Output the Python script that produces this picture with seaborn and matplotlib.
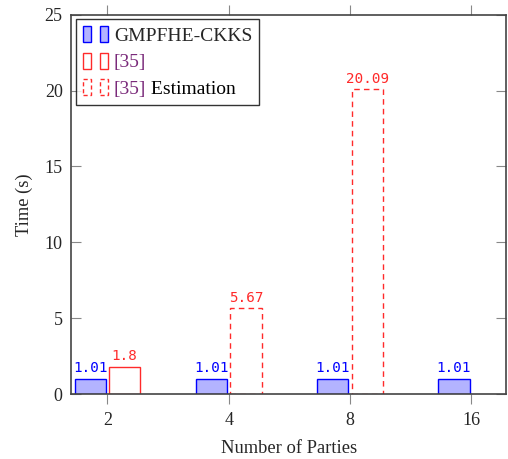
import pandas as pd
import numpy as np
import matplotlib
matplotlib.use('Agg')
import matplotlib.pyplot as plt
import seaborn as sns
from matplotlib.patches import Patch
from matplotlib.legend_handler import HandlerTuple

# chart data
parties = ['2', '4', '8', '16']
gmpfhe_time = [1.01, 1.01, 1.01, 1.01]
ref35_time = [1.8, 5.67, 20.09, np.nan]
ref35_estimated = [False, True, True, False]

sns.set_theme(style='white')
plt.rcParams['font.family'] = ['Liberation Serif', 'DejaVu Serif']

df = pd.DataFrame({
    'parties': parties * 2,
    'time': gmpfhe_time + ref35_time,
    'method': ['GMPFHE-CKKS'] * 4 + ['[35]'] * 4,
})
df = df.dropna()

blue_fill = '#b3b3ff'
red = '#ff2a2a'
purple = '#7a2a7a'

fig = plt.figure(figsize=(5.08, 4.59), dpi=100)
ax = fig.add_axes([0.1398, 0.1416, 0.997 - 0.1398, 0.968 - 0.1416])

sns.barplot(data=df, x='parties', y='time', hue='method', order=parties,
            hue_order=['GMPFHE-CKKS', '[35]'], width=0.57, gap=0.1,
            palette=[blue_fill, 'white'], ax=ax, legend=False)

# style the bars
for bar in ax.containers[0]:
    bar.set_facecolor(blue_fill)
    bar.set_edgecolor('blue')
    bar.set_linewidth(1.0)
for bar in ax.containers[1]:
    idx = int(round(bar.get_x() + bar.get_width() / 2))
    bar.set_facecolor('white')
    bar.set_edgecolor(red)
    bar.set_linewidth(1.0)
    if ref35_estimated[idx]:
        bar.set_linestyle((0, (4, 3)))

label_font = dict(family='DejaVu Sans Mono', size=10.3)
ax.bar_label(ax.containers[0], labels=[f'{v:g}' for v in gmpfhe_time],
             padding=2.5, color='blue', **label_font)
ax.bar_label(ax.containers[1], labels=[f'{v:g}' for v in ref35_time if not np.isnan(v)],
             padding=2.5, color=red, **label_font)

ax.set_xlim(-0.3, 3.29)
ax.set_ylim(0, 25)
ax.set_yticks([0, 5, 10, 15, 20, 25])
ax.set_xlabel('Number of Parties', fontsize=13.3, labelpad=8)
ax.set_ylabel('Time (s)', fontsize=13.3, labelpad=8)

for s in ax.spines.values():
    s.set_visible(True)
    s.set_color('#444444')
    s.set_linewidth(1.2)
ax.tick_params(axis='y', direction='in', left=True, right=True, length=7,
               width=0.8, color='#888888', labelsize=13, pad=6)
ax.tick_params(axis='x', direction='out', bottom=True, top=True, length=7,
               width=0.8, color='#888888', labelsize=13, pad=6)

# legend with two small boxes per entry
h1 = (Patch(facecolor=blue_fill, edgecolor='blue', lw=1),
      Patch(facecolor=blue_fill, edgecolor='blue', lw=1))
h2 = (Patch(facecolor='white', edgecolor=red, lw=1),
      Patch(facecolor='white', edgecolor=red, lw=1))
h3 = (Patch(facecolor='white', edgecolor=red, lw=1, linestyle=(0, (3, 2))),
      Patch(facecolor='white', edgecolor=red, lw=1, linestyle=(0, (3, 2))))
leg = ax.legend([h1, h2, h3], ['GMPFHE-CKKS', '[35]', '[35]'],
                handler_map={tuple: HandlerTuple(ndivide=None, pad=0.5)},
                loc='upper left', bbox_to_anchor=(0.0115, 0.988),
                fontsize=14, frameon=True, fancybox=False, handlelength=1.3,
                handleheight=0.9, borderaxespad=0, labelspacing=0.4,
                handletextpad=0.3, borderpad=0.35)
leg.get_frame().set_edgecolor('black')
leg.get_frame().set_linewidth(1.0)
texts = leg.get_texts()
texts[1].set_color(purple)
texts[2].set_color(purple)

# black " Estimation" right after the purple citation
fig.canvas.draw()
bb = texts[2].get_window_extent()
fig.text(bb.x1 / fig.dpi / 5.08, bb.y0 / fig.dpi / 4.59, ' Estimation',
         ha='left', va='bottom', fontsize=14, color='black', zorder=10)

# widen legend frame to cover the extra word
fig.canvas.draw()
est = fig.texts[-1].get_window_extent()
frame = leg.get_frame()
fb = frame.get_window_extent()
extra = est.x1 - (fb.x1 - 5)
if extra > 0:
    frame.set_width(frame.get_width() + extra)

fig.savefig('out.png', dpi=100)
